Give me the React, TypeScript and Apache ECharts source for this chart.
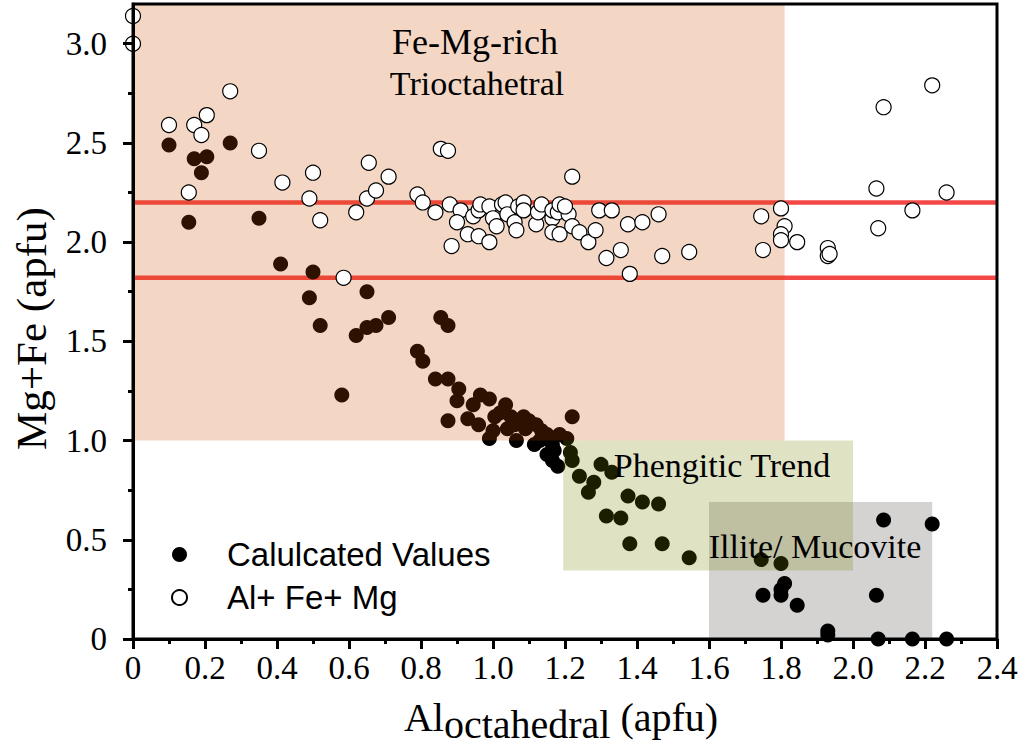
import React, { useEffect, useRef } from "react";
import * as echarts from "echarts";

// ---- Data ----
const calcX = [0.10, 0.17, 0.205, 0.19, 0.27, 0.155, 0.35, 0.41, 0.50, 0.49, 0.52, 0.58, 0.62, 0.65, 0.65, 0.675, 0.71, 0.79, 0.805, 0.84, 0.855, 0.875, 0.875, 0.875, 0.905, 0.90, 0.93, 0.96, 0.945, 0.965, 0.99, 0.99, 1.005, 1.02, 1.035, 1.04, 1.065, 1.06, 1.085, 1.09, 1.115, 1.12, 1.135, 1.165, 1.165, 1.18, 1.185, 1.205, 1.22, 1.215, 1.22, 1.24, 1.28, 1.265, 1.30, 1.33, 1.375, 1.415, 1.46, 1.315, 1.355, 1.38, 1.47, 1.545, 1.745, 1.80, 2.085, 2.22, 1.81, 1.80, 1.80, 1.75, 1.845, 2.065, 1.93, 1.93, 2.07, 2.165, 2.26, 1.00, 1.05, 1.10, 1.15, 1.17, 1.13, 1.15];
const calcY = [2.49, 2.42, 2.43, 2.35, 2.50, 2.10, 2.12, 1.89, 1.85, 1.72, 1.58, 1.23, 1.53, 1.75, 1.57, 1.58, 1.62, 1.45, 1.40, 1.31, 1.62, 1.58, 1.31, 1.10, 1.26, 1.20, 1.11, 1.08, 1.18, 1.23, 1.21, 1.01, 1.12, 1.14, 1.18, 1.06, 1.00, 1.08, 1.12, 1.06, 0.98, 1.08, 1.05, 0.98, 0.90, 0.87, 1.03, 1.01, 1.12, 0.94, 0.90, 0.82, 0.79, 0.74, 0.88, 0.84, 0.72, 0.69, 0.68, 0.62, 0.61, 0.48, 0.48, 0.41, 0.40, 0.38, 0.60, 0.58, 0.28, 0.25, 0.22, 0.22, 0.17, 0.22, 0.04, 0.02, 0.0, 0.0, 0.0, 1.05, 1.12, 1.10, 1.03, 0.95, 1.00, 0.93];

const totalX = [0, 0, 0.27, 0.10, 0.17, 0.205, 0.19, 0.155, 0.35, 0.415, 0.50, 0.49, 0.52, 0.62, 0.655, 0.65, 0.675, 0.71, 0.585, 0.79, 0.805, 0.84, 0.855, 0.875, 0.88, 0.91, 0.90, 0.885, 0.93, 0.96, 0.99, 0.945, 0.96, 0.965, 0.99, 1.00, 1.01, 1.025, 1.035, 1.04, 1.06, 1.065, 1.07, 1.085, 1.085, 1.12, 1.125, 1.135, 1.165, 1.165, 1.165, 1.185, 1.18, 1.185, 1.21, 1.20, 1.22, 1.22, 1.24, 1.265, 1.285, 1.295, 1.33, 1.315, 1.355, 1.38, 1.375, 1.415, 1.46, 1.47, 1.545, 1.745, 1.75, 1.80, 1.81, 1.80, 1.80, 1.845, 1.93, 1.93, 1.935, 2.065, 2.07, 2.085, 2.22, 2.26, 2.165];
const totalY = [3.14, 3.00, 2.76, 2.59, 2.59, 2.64, 2.54, 2.25, 2.46, 2.30, 2.35, 2.22, 2.11, 2.15, 2.40, 2.22, 2.26, 2.33, 1.82, 2.24, 2.20, 2.15, 2.47, 2.46, 2.19, 2.16, 2.10, 1.98, 2.04, 2.03, 2.00, 2.13, 2.16, 2.19, 2.18, 2.12, 2.08, 2.19, 2.20, 2.14, 2.10, 2.06, 2.18, 2.20, 2.16, 2.09, 2.15, 2.19, 2.12, 2.16, 2.05, 2.04, 2.15, 2.19, 2.14, 2.18, 2.08, 2.33, 2.05, 2.00, 2.06, 2.16, 2.16, 1.92, 1.96, 1.84, 2.09, 2.10, 2.14, 1.93, 1.95, 2.13, 1.96, 2.17, 2.08, 2.04, 2.01, 2.00, 1.97, 1.93, 1.94, 2.27, 2.07, 2.68, 2.79, 2.25, 2.16];

// field boxes: [xMin, yMin, xMax, yMax]
const trioctBox = [0, 1.0, 1.81, 3.2];
const phengiticBox = [1.195, 0.345, 2.0, 1.0];
const illiteBox = [1.6, 0, 2.22, 0.69];

// horizontal reference levels
const refLevels = [2.2, 1.82];

const xTicks = [0, 0.2, 0.4, 0.6, 0.8, 1.0, 1.2, 1.4, 1.6, 1.8, 2.0, 2.2, 2.4];
const yTicks = [0, 0.5, 1.0, 1.5, 2.0, 2.5, 3.0];
const yMinorTicks = [0.25, 0.75, 1.25, 1.75, 2.25, 2.75];

const seriesNames = ["Calulcated Values", "Al+ Fe+ Mg"];

const SERIF = "'Liberation Serif', 'Times New Roman', serif";
const SANS = "'Liberation Sans', Arial, sans-serif";

function boxSeries(box: number[], color: string, z: number) {
  return {
    type: "custom",
    z,
    silent: true,
    encode: { x: [0, 2], y: [1, 3] },
    data: [box],
    renderItem: (params: any, api: any) => {
      const p0 = api.coord([api.value(0), api.value(3)]);
      const p1 = api.coord([api.value(2), api.value(1)]);
      return {
        type: "rect",
        shape: { x: p0[0], y: p0[1], width: p1[0] - p0[0], height: p1[1] - p0[1] },
        style: { fill: color },
      };
    },
  };
}

function fmt(v: number) {
  return v === 0 ? "0" : v.toFixed(1);
}

export default function App() {
  const ref = useRef<HTMLDivElement>(null);
  useEffect(() => {
    if (!ref.current) return;
    const chart = echarts.init(ref.current, null, { renderer: "svg" });
    const option: any = {
      animation: false,
      backgroundColor: "#ffffff",
      grid: {
        left: 133,
        right: 26,
        top: 4,
        bottom: 106,
        show: true,
        borderColor: "#000",
        borderWidth: 3,
        backgroundColor: "transparent",
        z: 10,
      },
      legend: {
        data: seriesNames,
        orient: "vertical",
        left: 166,
        top: 533,
        itemWidth: 15,
        itemHeight: 15,
        itemGap: 10,
        icon: "circle",
        textStyle: { fontFamily: SANS, fontSize: 33, color: "#000", padding: [0, 0, 0, 35] },
      },
      xAxis: {
        type: "value",
        min: 0,
        max: 2.4,
        interval: 0.2,
        z: 10,
        axisLine: { show: true, lineStyle: { color: "#000", width: 3 } },
        axisTick: { show: true, length: 10, lineStyle: { color: "#000", width: 3 } },
        minorTick: { show: true, splitNumber: 2, length: 5, lineStyle: { color: "#000", width: 3 } },
        splitLine: { show: false },
        axisLabel: {
          margin: 12,
          fontFamily: SERIF,
          fontSize: 33,
          color: "#000",
          formatter: (v: number) => fmt(v),
          customValues: xTicks,
        },
        name: "{a|Al}{b|octahedral}{a| (apfu)}",
        nameLocation: "middle",
        nameGap: 51,
        nameTextStyle: {
          padding: [0, 8, 0, 0],
          rich: {
            a: { fontFamily: SERIF, fontSize: 40, color: "#000" },
            b: { fontFamily: SERIF, fontSize: 40, color: "#000", padding: [14, 0, 0, 0] },
          },
        },
      },
      yAxis: [
        {
          type: "value",
          min: 0,
          max: 3.2,
          interval: 0.5,
          z: 10,
          axisLine: { show: true, lineStyle: { color: "#000", width: 3 } },
          axisTick: { show: true, length: 10, lineStyle: { color: "#000", width: 3 }, customValues: yTicks },
          splitLine: { show: false },
          axisLabel: {
            margin: 26,
            fontFamily: SERIF,
            fontSize: 33,
            color: "#000",
            formatter: (v: number) => fmt(v),
            customValues: yTicks,
          },
          name: "Mg+Fe (apfu)",
          nameLocation: "middle",
          nameGap: 80,
          nameTextStyle: { fontFamily: SERIF, fontSize: 43, color: "#000", padding: [0, 14, 0, 0] },
        },
        {
          type: "value",
          position: "left",
          min: 0,
          max: 3.2,
          interval: 0.25,
          z: 10,
          axisLine: { show: false },
          axisTick: { show: true, length: 5, lineStyle: { color: "#000", width: 3 }, customValues: yMinorTicks },
          axisLabel: { show: false },
          splitLine: { show: false },
        },
      ],
      series: [
        boxSeries(illiteBox, "#d5d2d2", 1),
        ...refLevels.map((lv) => ({
          type: "line",
          z: 2,
          silent: true,
          symbol: "none",
          data: [[0, lv], [2.4, lv]],
          lineStyle: { color: "#f44848", width: 4.5 },
        })),
        {
          name: seriesNames[0],
          type: "scatter",
          z: 3,
          symbol: "circle",
          symbolSize: 15,
          itemStyle: { color: "#000", opacity: 1 },
          data: calcX.map((x, i) => [x, calcY[i]]),
        },
        boxSeries(trioctBox, "rgba(206,74,0,0.227)", 4),
        boxSeries(phengiticBox, "rgba(120,129,0,0.23)", 4),
        {
          name: seriesNames[1],
          type: "scatter",
          z: 5,
          symbol: "circle",
          symbolSize: 15,
          itemStyle: { color: "#fff", borderColor: "#000", borderWidth: 1.2, opacity: 1 },
          data: totalX.map((x, i) => [x, totalY[i]]),
        },
      ],
      graphic: [
        { type: "text", x: 475, y: 42, z: 20, style: { text: "Fe-Mg-rich", font: `36px ${SERIF}`, fill: "#000", align: "center", verticalAlign: "middle" } },
        { type: "text", x: 477, y: 83, z: 20, style: { text: "Trioctahetral", font: `34px ${SERIF}`, fill: "#000", align: "center", verticalAlign: "middle" } },
        { type: "text", x: 722, y: 465, z: 20, style: { text: "Phengitic Trend", font: `34px ${SERIF}`, fill: "#000", align: "center", verticalAlign: "middle" } },
        { type: "text", x: 815, y: 546, z: 20, style: { text: "Illite/ Mucovite", font: `34px ${SERIF}`, fill: "#000", align: "center", verticalAlign: "middle" } },
      ],
    };
    chart.setOption(option);
    return () => chart.dispose();
  }, []);
  return <div ref={ref} style={{ position: "fixed", left: 0, top: 0, width: 1023, height: 749, background: "#fff" }} />;
}
